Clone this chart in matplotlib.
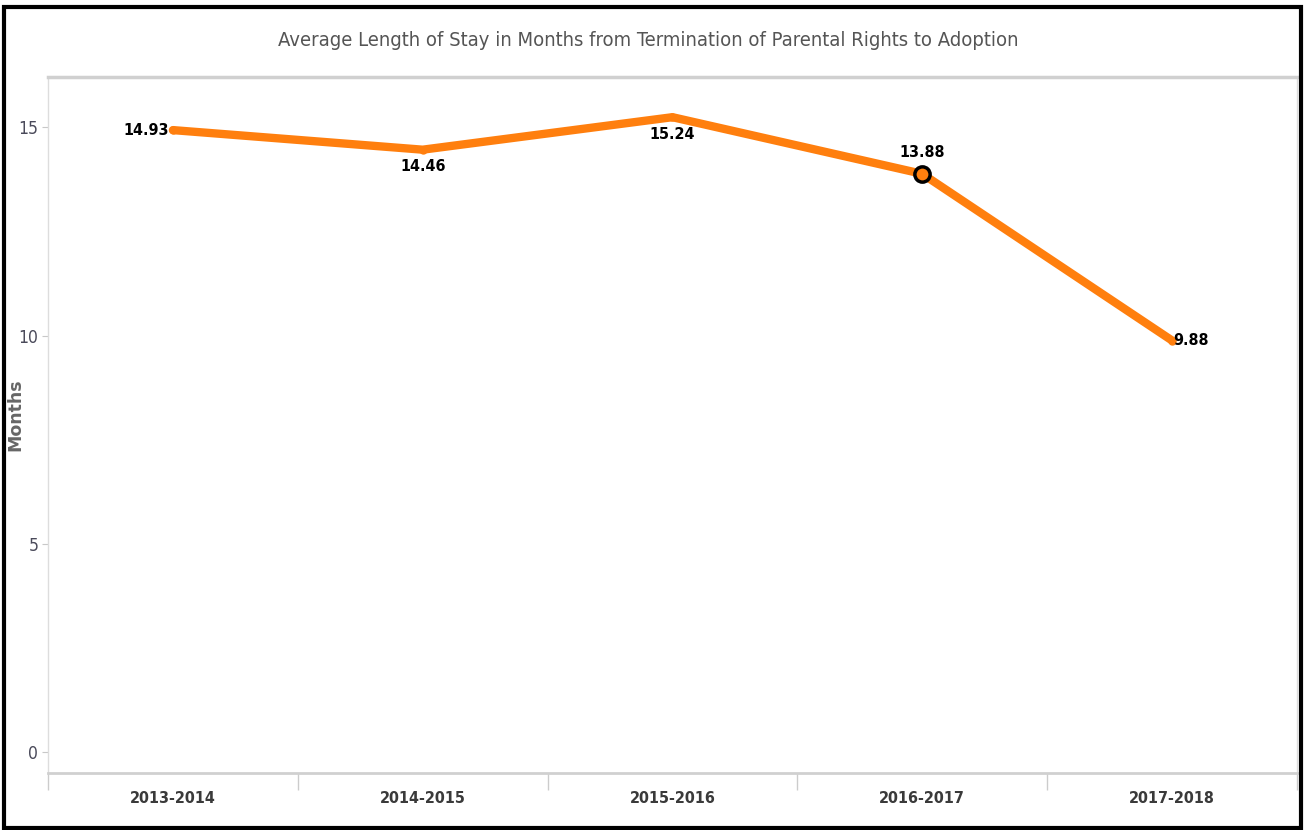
import matplotlib.pyplot as plt
from matplotlib.patches import Rectangle
import numpy as np

# Average length of stay, TPR to adoption
years = ['2013-2014', '2014-2015', '2015-2016', '2016-2017', '2017-2018']
months = [14.93, 14.46, 15.24, 13.88, 9.88]
label_pos = ['left', 'below', 'below', 'above', 'right']

cond = dict(family='DejaVu Sans', fontstretch='condensed')
orange = '#ff7f0e'

fig = plt.figure(figsize=(13.05, 8.3), dpi=100)
ax = fig.add_axes([0.0368, 0.0687, 0.957, 0.8383])

x = np.arange(len(years))
ax.plot(x, months, color=orange, lw=6, solid_capstyle='round', solid_joinstyle='round',
        marker='o', ms=5, zorder=3)
ax.plot(x[3], months[3], 'o', ms=11, mfc=orange, mec='black', mew=2.5, zorder=4)

offsets = {'left': ((-3, 0), 'right', 'center'), 'right': ((1, 0), 'left', 'center'),
           'below': ((0, -7), 'center', 'top'), 'above': ((0, 10), 'center', 'bottom')}
for i, v in enumerate(months):
    off, ha, va = offsets[label_pos[i]]
    ax.annotate(f'{v:.2f}', (i, v), xytext=off, textcoords='offset points',
                ha=ha, va=va, fontsize=11.5, fontweight='bold', **cond)

ax.set_xlim(-0.5, 4.5)
ax.set_ylim(-0.5, 16.2)
ax.set_yticks([0, 5, 10, 15])
ax.set_yticklabels(['0', '5', '10', '15'], fontsize=12.5, color='#4a4a5a', **cond)
ax.tick_params(axis='y', length=4, color='#c8c8c8', pad=3)
ax.set_xticks(x)
ax.set_xticklabels(years, fontsize=11.5, fontweight='bold', color='#3a3a3a', **cond)
ax.tick_params(axis='x', which='major', length=0, pad=13)
ax.set_xticks(np.arange(-0.5, 5, 1), minor=True)
ax.tick_params(axis='x', which='minor', length=12, color='#cccccc', width=1)

for side in ['left', 'right']:
    ax.spines[side].set_color('#dddddd')
    ax.spines[side].set_linewidth(1)
ax.spines['bottom'].set_color('#d0d0d0')
ax.spines['bottom'].set_linewidth(2)
ax.spines['top'].set_color('#d0d0d0')
ax.spines['top'].set_linewidth(2.5)

ax.set_ylabel('Months', fontsize=12.5, fontweight='bold', color='#666666', va='center')
ax.yaxis.set_label_coords(-0.0264, 0.515)

fig.text(0.497, 0.951, 'Average Length of Stay in Months from Termination of Parental Rights to Adoption',
         ha='center', va='center', fontsize=14.5, color='#555555', **cond)

fig.patches.append(Rectangle((0.003, 0.002), 0.994, 0.99, transform=fig.transFigure,
                             fill=False, edgecolor='black', lw=3))

fig.savefig('out.png', dpi=100)
